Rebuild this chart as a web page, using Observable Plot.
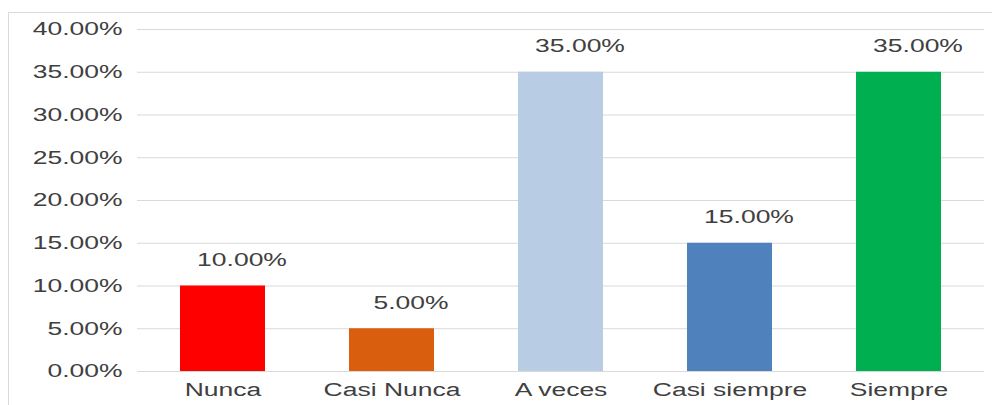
<!DOCTYPE html>
<html>
<head>
<meta charset="utf-8">
<script src="https://cdn.jsdelivr.net/npm/d3@7"></script>
<script src="https://cdn.jsdelivr.net/npm/@observablehq/plot@0.6"></script>
<style>
  html, body { margin: 0; padding: 0; background: #fff; }
  #wrap { position: relative; width: 992px; height: 405px; overflow: hidden; }
  #border { position: absolute; left: 8px; top: 12px; width: 1000px; height: 420px; border: 1px solid #d9d9d9; box-sizing: border-box; }
  #chart { position: absolute; left: 0; top: 0; }
</style>
</head>
<body>
<div id="wrap"><div id="border"></div><div id="chart"></div></div>
<script>
const categories = ["Nunca", "Casi Nunca", "A veces", "Casi siempre", "Siempre"];
const values = [10, 5, 35, 15, 35];
const colors = ["#FF0000", "#D95F0E", "#B8CCE4", "#4F81BD", "#00B050"];
const yTicks = [0, 5, 10, 15, 20, 25, 30, 35, 40];

const data = categories.map((c, i) => ({ cat: c, value: values[i], color: colors[i] }));
const fmt = d => d.toFixed(2) + "%";

const chart = Plot.plot({
  width: 992,
  height: 405,
  marginLeft: 137,
  marginRight: 8,
  marginTop: 29,
  marginBottom: 34,
  style: { fontFamily: "Liberation Sans, Arial, sans-serif", fontSize: "18px", color: "#404040", background: "transparent" },
  x: { domain: categories, paddingInner: 0.5, paddingOuter: 0.25, label: null, tickSize: 0, tickPadding: 12 },
  y: { domain: [0, 40], ticks: yTicks, tickFormat: fmt, label: null, tickSize: 0, tickPadding: 15 },
  marks: [
    Plot.gridY(yTicks, { stroke: "#d9d9d9", strokeOpacity: 1, strokeWidth: 1 }),
    Plot.barY(data, { x: "cat", y: "value", fill: "color" }),
    Plot.text(data, { x: "cat", y: "value", text: d => fmt(d.value), dy: -26, dx: 19, fill: "#404040", fontSize: 18 })
  ]
});
document.getElementById("chart").appendChild(chart);
// The reference text is horizontally stretched; widen glyphs accordingly
chart.querySelectorAll("text").forEach(t => {
  const tspans = t.querySelectorAll("tspan");
  const targets = tspans.length ? tspans : [t];
  targets.forEach(el => {
    const len = el.getComputedTextLength();
    if (len > 0) {
      el.setAttribute("textLength", (len * 1.47).toFixed(1));
      el.setAttribute("lengthAdjust", "spacingAndGlyphs");
    }
  });
});
</script>
</body>
</html>
